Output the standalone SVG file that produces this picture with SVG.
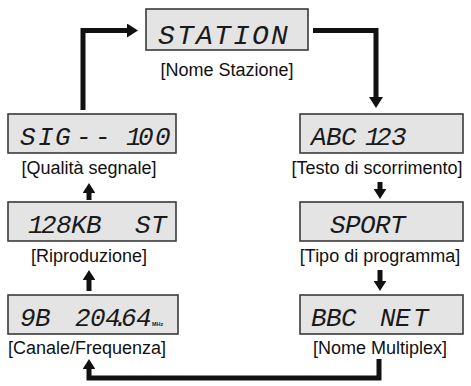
<svg xmlns="http://www.w3.org/2000/svg" width="471" height="386" viewBox="0 0 471 386">
<defs>
<style>
.box{fill:#e4e4e4;stroke:#3a3a3a;stroke-width:1.6}
.lcd{font-family:"Liberation Mono",monospace;font-style:italic;font-size:26px;fill:#1a1a1a}
.lbl{font-family:"Liberation Sans",Arial,sans-serif;font-size:18px;fill:#111;text-anchor:middle}
.ln{fill:none;stroke:#111;stroke-width:5;stroke-linejoin:miter}
.mhz{font-family:"Liberation Sans",Arial,sans-serif;font-size:5.5px;font-weight:bold;fill:#1a1a1a}
</style>
<marker id="ah" viewBox="0 0 10 10" refX="0" refY="5" markerWidth="2.2" markerHeight="2.8" markerUnits="strokeWidth" orient="auto" preserveAspectRatio="none"><path d="M0,0 L10,5 L0,10 z" fill="#111"/></marker>
<marker id="as" viewBox="0 0 10 10" refX="0" refY="5" markerWidth="2" markerHeight="2.5" markerUnits="strokeWidth" orient="auto" preserveAspectRatio="none"><path d="M0,0 L10,5 L0,10 z" fill="#111"/></marker>
</defs>
<g id="connectors">
<path class="ln" d="M83,110 V30.5 H127" marker-end="url(#ah)"/>
<path class="ln" d="M313,30.5 H376 V97" marker-end="url(#ah)"/>
<path class="ln" d="M380,182 V189" marker-end="url(#as)"/>
<path class="ln" d="M380,270 V281" marker-end="url(#as)"/>
<path class="ln" d="M379,359 V378 H89 V369" marker-end="url(#as)"/>
<path class="ln" d="M89,291 V280" marker-end="url(#as)"/>
<path class="ln" d="M89,200 V193" marker-end="url(#as)"/>
</g>
<g id="station">
<rect class="box" x="146" y="9" width="162" height="41"/>
<text class="lcd" style="font-size:28px" x="158 177 196 214 233 252 271" y="44">STATION</text>
<text class="lbl" x="227" y="76">[Nome Stazione]</text>
</g>
<g id="signal">
<rect class="box" x="8" y="114" width="168" height="39"/>
<text class="lcd" x="20 38 55 76 95 113 126 138 155" y="145">SIG-- 100</text>
<text class="lbl" x="89" y="174">[Qualità segnale]</text>
</g>
<g id="playback">
<rect class="box" x="8" y="202" width="168" height="39"/>
<text class="lcd" x="28 41 56 71 86 110 135 151" y="233">128KB ST</text>
<text class="lbl" x="89" y="262">[Riproduzione]</text>
</g>
<g id="channel">
<rect class="box" x="8" y="295" width="170" height="39"/>
<text class="lcd" x="20 35 55 75 90 105 113 121 136" y="326">9B 204.64</text>
<text class="mhz" x="152" y="326">MHz</text>
<text class="lbl" x="87" y="354">[Canale/Frequenza]</text>
</g>
<g id="scroll">
<rect class="box" x="300" y="114" width="163" height="39"/>
<text class="lcd" x="311 326 341 355 365 376 391" y="145">ABC 123</text>
<text class="lbl" x="377" y="174">[Testo di scorrimento]</text>
</g>
<g id="ptype">
<rect class="box" x="300" y="202" width="163" height="39"/>
<text class="lcd" x="330 345 360 375 390" y="233">SPORT</text>
<text class="lbl" x="380" y="262">[Tipo di programma]</text>
</g>
<g id="multiplex">
<rect class="box" x="300" y="295" width="163" height="39"/>
<text class="lcd" x="311 326 341 360 380 395 413" y="326">BBC NET</text>
<text class="lbl" x="380" y="354">[Nome Multiplex]</text>
</g>
</svg>
